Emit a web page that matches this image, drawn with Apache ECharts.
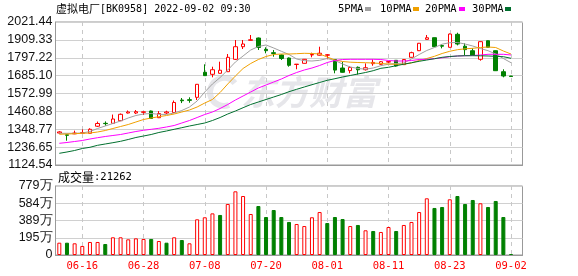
<!DOCTYPE html>
<html><head><meta charset="utf-8">
<script src="https://cdn.jsdelivr.net/npm/echarts@6/dist/echarts.min.js"></script>
<style>html,body{margin:0;padding:0;background:#fff}#c{width:578px;height:276px}</style>
</head><body><div id="c"></div>
<script>
// ---- data ----
const dates = ['06-13','06-14','06-15','06-16','06-17','06-20','06-21','06-22','06-23','06-24',
'06-27','06-28','06-29','06-30','07-01','07-04','07-05','07-06','07-07','07-08',
'07-11','07-12','07-13','07-14','07-15','07-18','07-19','07-20','07-21','07-22',
'07-25','07-26','07-27','07-28','07-29','08-01','08-02','08-03','08-04','08-05',
'08-08','08-09','08-10','08-11','08-12','08-15','08-16','08-17','08-18','08-19',
'08-22','08-23','08-24','08-25','08-26','08-29','08-30','08-31','09-01','09-02'];
const opens = [1325,1314,1320,1324,1323.4,1367.6,1386,1386,1402.4,1450.6,
1450.6,1455,1463.2,1421,1450.6,1453.8,1532,1534,1549,1706,
1693.4,1699.7,1709.7,1787.5,1866.5,1906.6,1921,1850,1829,1814.5,
1795.6,1755,1762.3,1814.5,1813,1813,1786,1732.9,1716.6,1737.3,
1722.2,1760,1756,1770,1781.3,1754,1800,1841.4,1912.6,1923,
1873.5,1862.7,1944.3,1869.7,1841.4,1787.5,1904,1841.4,1709.7,1682.7];
const closes = [1332,1310.8,1325,1328,1348.5,1384.9,1384,1413,1442.5,1457,
1459,1458,1416.2,1447.5,1457,1516.7,1527.5,1530,1630.7,1685,
1722,1719,1800,1866.5,1883.4,1910,1861.5,1841.4,1824,1792.5,
1749.8,1757,1787.5,1817.6,1825.6,1816,1719.7,1706,1736.6,1721.6,
1734.7,1768,1772.3,1773,1745.5,1786,1829,1888,1922.6,1866.5,
1869.7,1946,1883.4,1848,1814.5,1898,1862.7,1716,1682.7,1679.6];
const lows = [1320,1277,1318,1322,1322,1363,1371,1385,1400,1447.5,
1444,1438,1413,1419,1444,1450.6,1513,1515,1532,1683,
1674.5,1698,1708,1783,1852,1905,1846,1825,1803.7,1783,
1741,1725,1761,1800,1810.5,1787.5,1699.7,1703.4,1699.7,1692,
1717,1747,1752,1765,1742,1752,1798.7,1839.5,1911,1865,
1856,1861.5,1875,1814.5,1811,1778.7,1861,1714,1674.5,1678.5];
const highs = [1337,1319,1340,1348,1355,1397,1398,1441,1447.5,1466.4,
1469.5,1461,1466,1463,1465,1529,1544.7,1549,1632.6,1756,
1741,1772.5,1820.7,1908.5,1908.5,1940,1924,1862.7,1846,1817.6,
1799,1758,1789,1829,1866.5,1820.7,1789,1772.5,1745.5,1742.5,
1762,1787.5,1776.8,1778,1783,1789,1835,1890,1940,1924,
1883.4,1949,1954.3,1888,1856.5,1899,1905,1842.7,1724.8,1682.7];
const ma5 = [1323.4,1323.4,1323.4,1325.2,1334.6,1353.5,1369.1,1384.8,1400.5,1419.3,
1435.0,1444.4,1447.5,1442.5,1441.3,1450.7,1466.4,1488.3,1525.9,1582.4,
1632.6,1673.3,1720.4,1770.6,1808.2,1845.8,1867.8,1877.2,1858.4,1837.7,
1817.6,1789.4,1778.7,1776.8,1781.2,1792.5,1780.0,1758.0,1739.2,1729.8,
1725.4,1732.9,1747.4,1756.8,1761.2,1764.3,1789.4,1817.6,1842.7,1861.5,
1882.2,1891.6,1892.9,1883.4,1870.9,1855.2,1841.4,1820.7,1792.5,1766.1];
const ma10 = [1317.1,1318.9,1320.9,1323.4,1325.2,1331.5,1340.9,1353.5,1366.0,1378.5,
1394.2,1409.9,1419.3,1427.5,1435.0,1444.4,1456.9,1469.5,1488.3,1513.4,
1535.4,1579.3,1632.6,1682.7,1729.8,1761.2,1786.2,1805.0,1817.6,1820.7,
1820.7,1822.6,1825.1,1823.9,1820.7,1801.9,1783.1,1773.7,1769.3,1767.4,
1766.1,1764.3,1761.2,1758.0,1756.1,1756.8,1764.3,1780.0,1792.5,1806.3,
1823.9,1837.7,1847.7,1853.3,1856.4,1861.5,1864.6,1861.5,1839.5,1820.7];
const ma20 = [1260.6,1265.7,1271.9,1278.2,1287.6,1295.8,1303.3,1309.6,1315.8,1325.2,
1334.6,1342.2,1348.4,1354.7,1362.9,1372.3,1388.0,1403.6,1422.4,1441.3,
1456.9,1478.9,1504.0,1532.2,1557.3,1582.4,1607.5,1626.3,1645.1,1663.9,
1685.9,1704.7,1720.4,1732.9,1748.6,1767.4,1780.0,1786.2,1787.5,1787.5,
1787.5,1787.5,1786.2,1780.0,1776.8,1776.8,1780.0,1786.2,1787.5,1791.2,
1796.9,1803.8,1808.2,1810.0,1811.3,1814.4,1818.8,1818.8,1818.8,1814.4];
const ma30 = [1197.9,1206.1,1215.5,1228.0,1235.6,1248.1,1256.3,1264.4,1273.2,1284.5,
1297.0,1306.4,1315.8,1328.4,1337.8,1348.4,1358.5,1369.1,1378.5,1388.0,
1403.6,1422.4,1444.4,1463.2,1483.9,1504.0,1519.7,1535.4,1551.0,1566.7,
1584.2,1599.3,1613.8,1628.2,1642.0,1655.8,1665.8,1676.5,1685.9,1695.3,
1704.7,1716.0,1731.0,1737.3,1747.4,1756.8,1766.1,1774.9,1783.1,1791.2,
1800.0,1805.0,1808.2,1810.0,1810.0,1809.4,1808.2,1806.3,1803.8,1793.8];
// volume in 万
const volumes = [139,139,132,102,147,147,124,200,200,177,
188,181,181,158,139,200,169,132,403,426,
470,452,576,719,666,463,553,429,508,429,
373,350,327,426,485,361,429,406,327,339,
279,271,260,316,271,339,373,485,640,531,
542,629,666,576,621,584,542,610,429,2.1262];
// 1 = up (red), -1 = down (green)
const volDir = [1,-1,1,1,1,1,-1,1,1,1,
1,1,-1,1,-1,1,-1,1,1,1,
1,-1,1,1,1,1,-1,-1,-1,-1,
-1,1,1,1,1,-1,-1,-1,1,-1,
1,-1,1,1,-1,1,1,1,1,-1,
-1,1,-1,-1,-1,1,-1,-1,-1,-1];
const priceTicks = ['1124.54','1236.65','1348.77','1460.88','1572.99','1685.10','1797.22','1909.33','2021.44'];
const volTicks = ['0','195万','389万','584万','779万'];
const priceMin = 1124.54, priceMax = 2021.44;
const volMax = 779;
const maNames = ['5PMA','10PMA','20PMA','30PMA'];
const titleName = '虚拟电厂', titleCode = '[BK0958] 2022-09-02 09:30';
const volTitle = '成交量', volLast = '21262';

// ---- chart ----
const RED = '#ff0000', GREEN = '#008000';
const maColors = ['#a0a0a0', '#f0a000', '#ff00ff', '#006f2e'];
const cats = dates.concat(['']);
const tickIdx = (i) => i >= 3 && i < dates.length && (i - 3) % 8 === 0;
const pStep = (priceMax - priceMin) / (priceTicks.length - 1);
const vStep = volMax / (volTicks.length - 1);
const border = '#999', splitC = '#d0d0d0', dashC = '#c8c8c8';

const candleData = dates.map((d, i) => [opens[i], closes[i], lows[i], highs[i]]);
const volData = volumes.map((v, i) => ({
  value: v,
  itemStyle: volDir[i] > 0 ? {color: '#fff', borderColor: RED, borderWidth: 1}
                            : {color: GREEN, borderColor: GREEN, borderWidth: 1}
}));

function xAxisCfg(grid, showLabel) {
  return {
    type: 'category', gridIndex: grid, data: cats, boundaryGap: true,
    axisLine: {lineStyle: {color: border}}, axisTick: {show: false},
    axisLabel: {show: showLabel, interval: tickIdx, color: RED, fontFamily: 'DejaVu Sans Mono', fontSize: 10.5, margin: 6},
    splitLine: {show: true, interval: tickIdx, alignWithLabel: true, lineStyle: {color: dashC, type: [4, 4]}}
  };
}

const legendTextX = [338, 380, 425, 472];
const legendSwX = [365, 413, 459, 505];
const graphics = [
  {type: 'text', x: 56, y: 9, z: 10, style: {
    text: '{c|' + titleName + '}{m|' + titleCode + '}', verticalAlign: 'middle',
    rich: {c: {fontFamily: 'Noto Sans CJK SC', fontSize: 11, fill: '#000'},
           m: {fontFamily: 'DejaVu Sans Mono', fontSize: 10, fill: '#000'}}}},
  {type: 'text', x: 58, y: 177, z: 10, style: {
    text: '{c|' + volTitle + '}{m|:' + volLast + '}', verticalAlign: 'middle',
    rich: {c: {fontFamily: 'Noto Sans CJK SC', fontSize: 12, fill: '#000'},
           m: {fontFamily: 'DejaVu Sans Mono', fontSize: 10.5, fill: '#000'}}}},
  // watermark
  {type: 'arc', z: 0, shape: {cx: 224, cy: 92, r: 14, startAngle: 1.2, endAngle: 5.6}, style: {stroke: '#e6e6ea', lineWidth: 6, fill: null}},
  {type: 'text', x: 241, y: 92, z: 0, style: {text: '东方财富', fontFamily: 'Noto Sans CJK SC', fontSize: 34, fontWeight: 'bold', fontStyle: 'italic', fill: '#e6e6ea', verticalAlign: 'middle'}}
];
maNames.forEach((n, k) => {
  graphics.push({type: 'text', x: legendTextX[k], y: 9, z: 10, style: {text: n, fontFamily: 'DejaVu Sans Mono', fontSize: 10.5, fill: '#000', verticalAlign: 'middle'}});
  graphics.push({type: 'rect', z: 10, shape: {x: legendSwX[k], y: 7, width: 6, height: 4}, style: {fill: maColors[k]}});
});

const maSeries = [ma5, ma10, ma20, ma30].map((arr, k) => ({
  name: maNames[k], type: 'line', xAxisIndex: 0, yAxisIndex: 0, data: arr,
  showSymbol: false, symbol: 'none', z: 4,
  lineStyle: {color: maColors[k], width: 1}, itemStyle: {color: maColors[k]}
}));

const option = {
  animation: false,
  grid: [
    {left: 55.5, right: 55.5, top: 22, height: 143, show: true, borderColor: border, borderWidth: 1, backgroundColor: 'transparent'},
    {left: 55.5, right: 55.5, top: 186, height: 69, show: true, borderColor: border, borderWidth: 1, backgroundColor: 'transparent'}
  ],
  xAxis: [xAxisCfg(0, false), xAxisCfg(1, true)],
  yAxis: [
    {type: 'value', gridIndex: 0, min: priceMin, max: priceMax, interval: pStep,
     axisLine: {show: true, lineStyle: {color: border}}, axisTick: {show: false},
     axisLabel: {color: '#111', fontFamily: 'Liberation Sans', fontSize: 12.5, margin: 3,
                 formatter: (v) => priceTicks[Math.round((v - priceMin) / pStep)]},
     splitLine: {show: true, lineStyle: {color: splitC}}},
    {type: 'value', gridIndex: 1, min: 0, max: volMax, interval: vStep,
     axisLine: {show: true, lineStyle: {color: border}}, axisTick: {show: false},
     axisLabel: {color: '#111', fontFamily: 'Liberation Sans', fontSize: 12.5, margin: 3,
                 formatter: (v) => volTicks[Math.round(v / vStep)]},
     splitLine: {show: true, lineStyle: {color: splitC}}}
  ],
  graphic: graphics,
  series: [
    {type: 'candlestick', xAxisIndex: 0, yAxisIndex: 0, data: candleData, barWidth: 4, z: 3,
     itemStyle: {color: '#fff', color0: GREEN, borderColor: RED, borderColor0: GREEN, borderWidth: 1}},
    ...maSeries,
    {type: 'bar', xAxisIndex: 1, yAxisIndex: 1, data: volData, barWidth: 4, barMinHeight: 1, z: 3}
  ]
};
const chart = echarts.init(document.getElementById('c'));
chart.setOption(option);
</script></body></html>
